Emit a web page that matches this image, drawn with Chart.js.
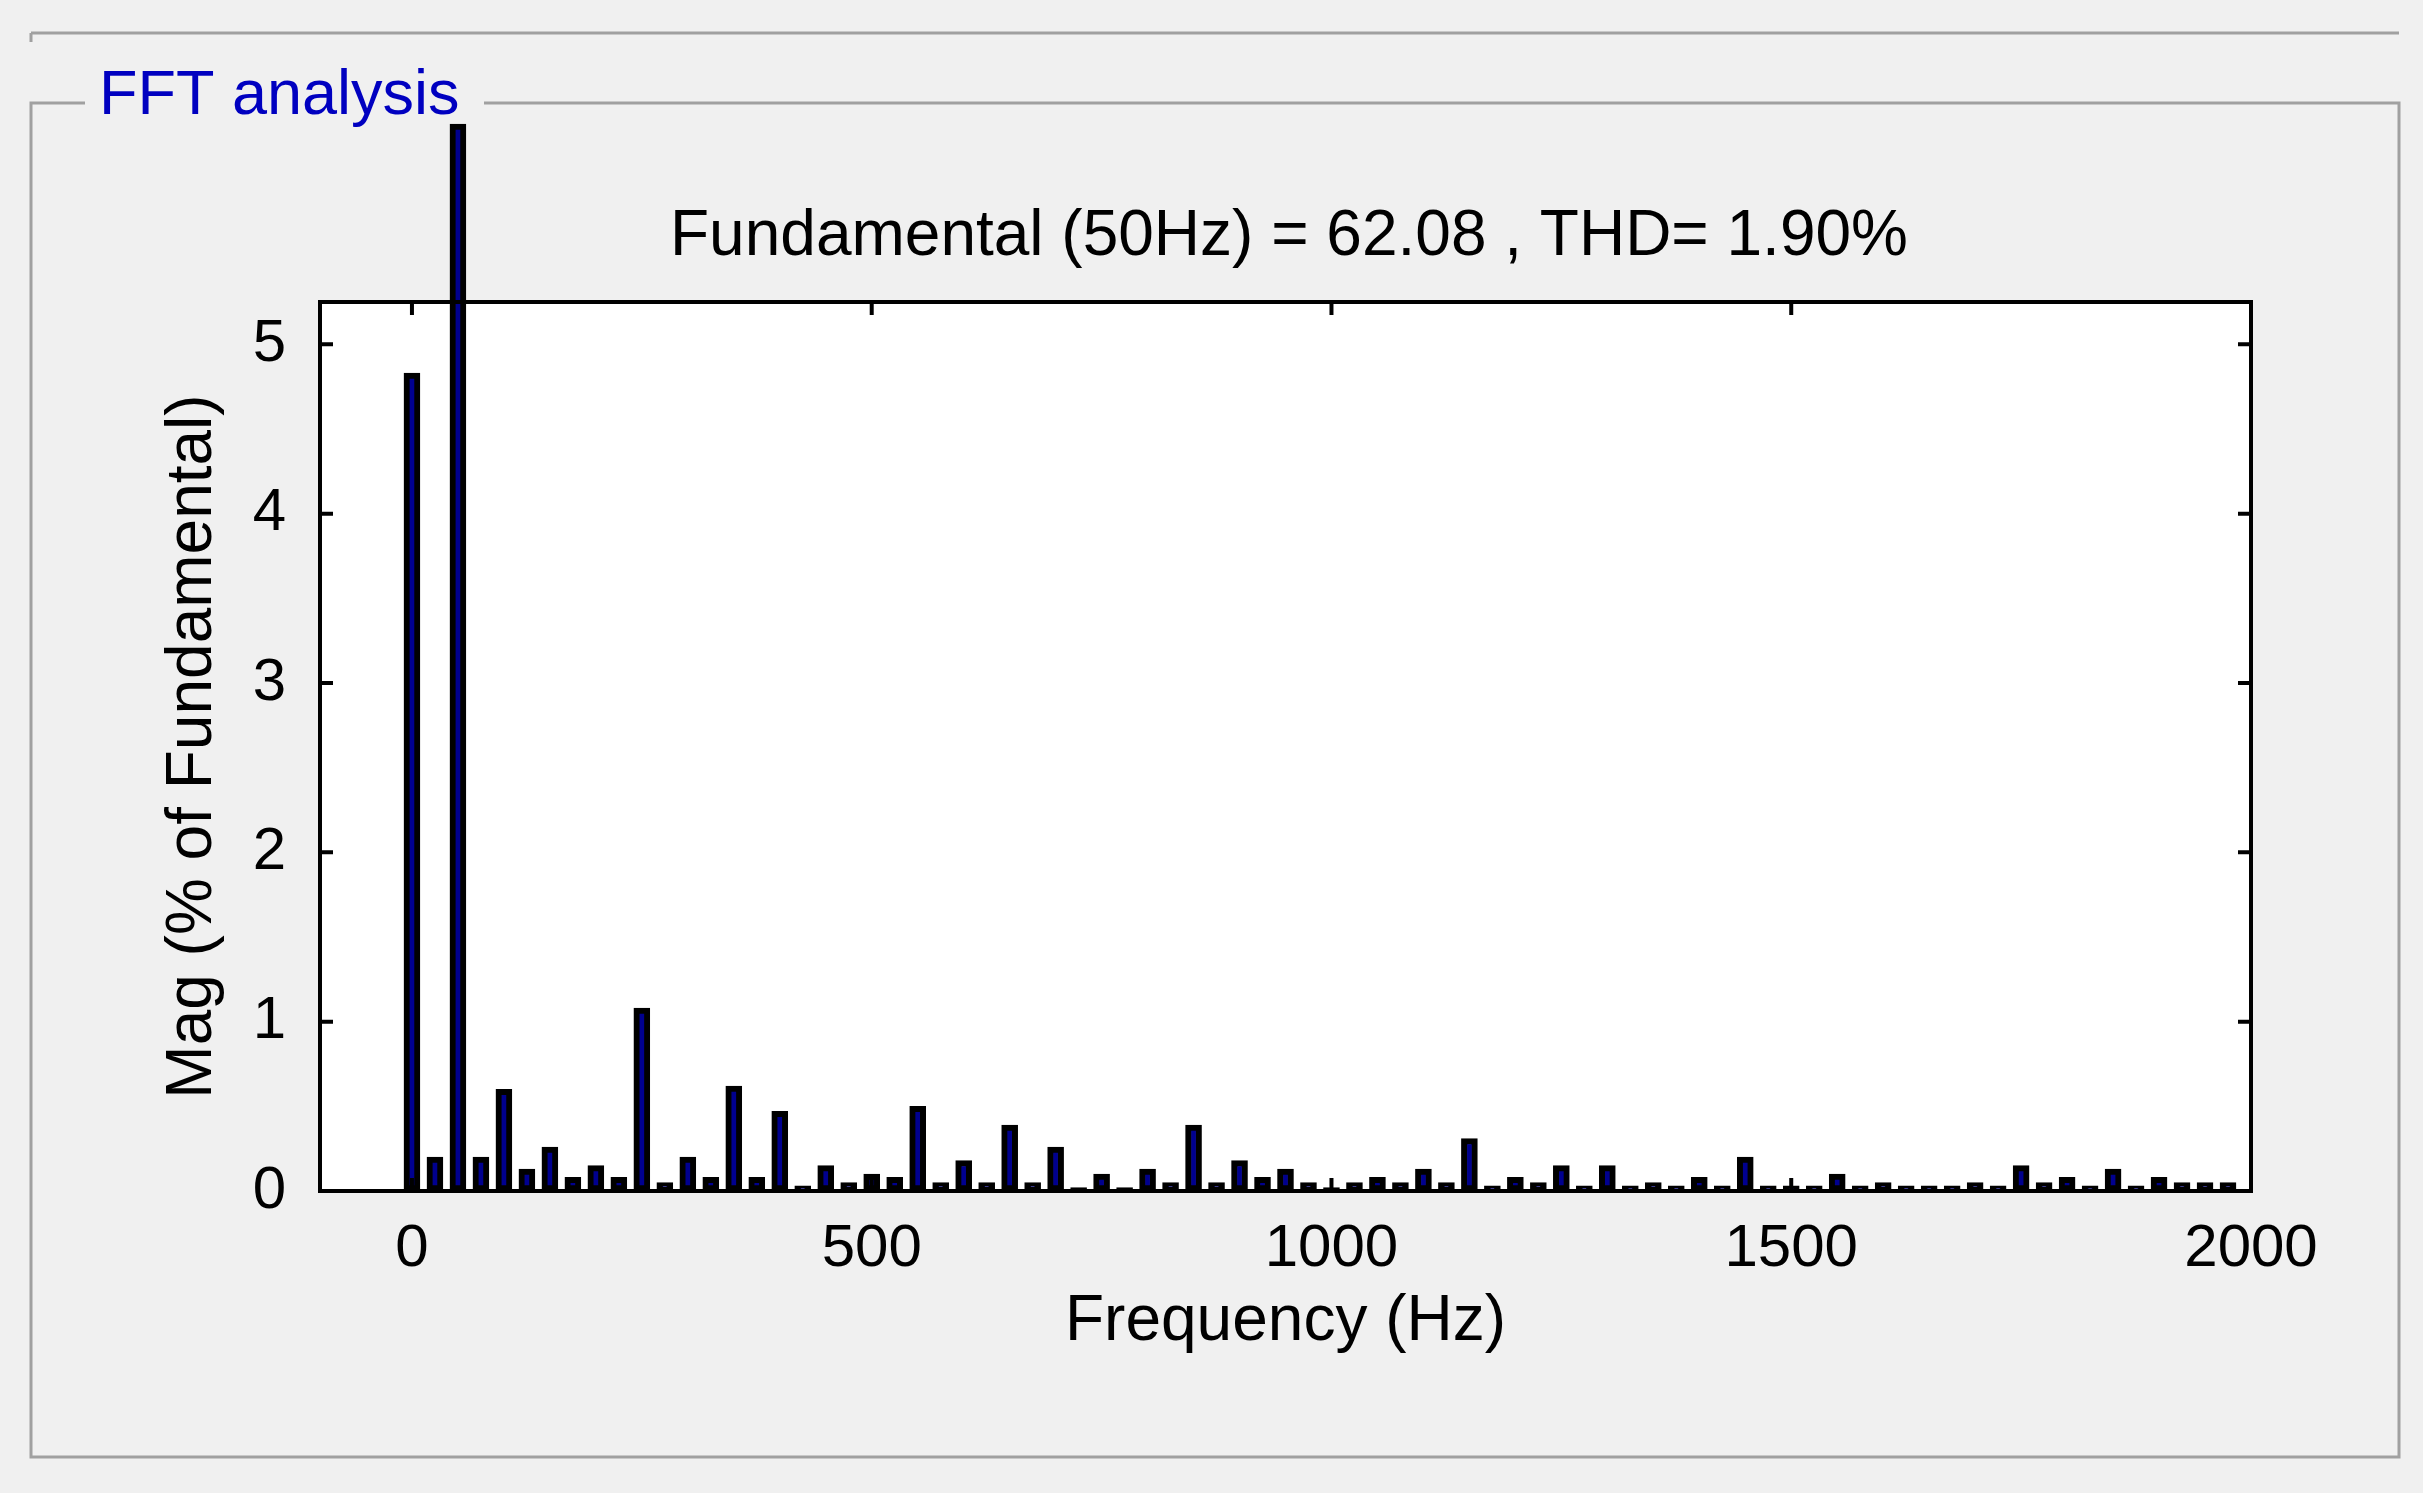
<!DOCTYPE html>
<html><head><meta charset="utf-8">
<script src="https://cdn.jsdelivr.net/npm/chart.js@4"></script>
<style>html,body{margin:0;padding:0;background:#f0f0f0;}#c{display:block;}</style>
</head><body>
<canvas id="c" width="2423" height="1493"></canvas>
<script>
const frequencies = [0,25,50,75,100,125,150,175,200,225,250,275,300,325,350,375,400,425,450,475,500,525,550,575,600,625,650,675,700,725,750,775,800,825,850,875,900,925,950,975,1000,1025,1050,1075,1100,1125,1150,1175,1200,1225,1250,1275,1300,1325,1350,1375,1400,1425,1450,1475,1500,1525,1550,1575,1600,1625,1650,1675,1700,1725,1750,1775,1800,1825,1850,1875,1900,1925,1950,1975];
const magnitudes = [4.83,0.2,6.3,0.2,0.6,0.13,0.26,0.08,0.15,0.08,1.08,0.05,0.2,0.08,0.62,0.08,0.47,0.03,0.15,0.05,0.1,0.08,0.5,0.05,0.18,0.05,0.39,0.05,0.26,0.02,0.1,0.02,0.13,0.05,0.39,0.05,0.18,0.08,0.13,0.05,0.02,0.05,0.08,0.05,0.13,0.05,0.31,0.03,0.08,0.05,0.15,0.03,0.15,0.03,0.05,0.03,0.08,0.03,0.2,0.03,0.03,0.03,0.1,0.03,0.05,0.03,0.03,0.03,0.05,0.03,0.15,0.05,0.08,0.03,0.13,0.03,0.08,0.05,0.05,0.05];
const xTickValues = [0,500,1000,1500,2000];
const yTickValues = [0,1,2,3,4,5];
const titleText = 'Fundamental (50Hz) = 62.08 , THD= 1.90%';
const panelText = 'FFT analysis';

const F = 'Arial, "Liberation Sans", sans-serif';
const deco = {
  id:'deco',
  beforeDraw(chart){
    const c = chart.ctx; c.save();
    c.fillStyle='#f0f0f0'; c.fillRect(0,0,chart.width,chart.height);
    c.strokeStyle='#a0a0a0'; c.lineWidth=3;
    c.beginPath(); c.moveTo(31,33); c.lineTo(2399,33); c.stroke();
    c.beginPath(); c.moveTo(31,33); c.lineTo(31,42); c.stroke();
    c.beginPath();
    c.moveTo(85,103); c.lineTo(31,103); c.lineTo(31,1457); c.lineTo(2399,1457); c.lineTo(2399,103); c.lineTo(484,103); c.stroke();
    c.fillStyle='#0000c0'; c.font='63px '+F; c.textBaseline='middle'; c.textAlign='left';
    c.fillText(panelText,99,97);
    const a=chart.chartArea;
    c.fillStyle='#fff'; c.fillRect(a.left,a.top,a.right-a.left,a.bottom-a.top);
    c.fillStyle='#000'; c.font='64px '+F; c.textAlign='center';
    c.fillText(titleText,1289,237);
    c.restore();
  },
  afterDraw(chart){
    const c=chart.ctx, a=chart.chartArea, xs=chart.scales.x, ys=chart.scales.y;
    c.save(); c.strokeStyle='#000'; c.lineWidth=4;
    c.strokeRect(a.left,a.top,a.right-a.left,a.bottom-a.top);
    const L=13;
    c.beginPath();
    xTickValues.forEach(v=>{const p=xs.getPixelForValue(v);c.moveTo(p,a.bottom);c.lineTo(p,a.bottom-L);c.moveTo(p,a.top);c.lineTo(p,a.top+L);});
    yTickValues.forEach(v=>{const p=ys.getPixelForValue(v);c.moveTo(a.left,p);c.lineTo(a.left+L,p);c.moveTo(a.right,p);c.lineTo(a.right-L,p);});
    c.stroke(); c.restore();
  }
};
new Chart(document.getElementById('c'),{
  type:'bar',
  data:{datasets:[{data:frequencies.map((f,i)=>({x:f,y:magnitudes[i]})),
    backgroundColor:'#00008f',borderColor:'#000',borderWidth:6,borderSkipped:false,barThickness:16,clip:false}]},
  options:{responsive:false,animation:false,devicePixelRatio:1,
    layout:{padding:{left:155,top:302,right:172,bottom:132}},
    plugins:{legend:{display:false},tooltip:{enabled:false}},
    scales:{
      x:{type:'linear',min:-100,max:2000,offset:false,
        afterBuildTicks:s=>{s.ticks=xTickValues.map(v=>({value:v}));},
        afterFit:s=>{s.height=170;},
        grid:{display:false},border:{display:false},
        ticks:{color:'#000',font:{family:F,size:60},padding:14,maxRotation:0,callback:v=>String(v)},
        title:{display:true,text:'Frequency (Hz)',color:'#000',font:{family:F,size:64},padding:0}},
      y:{min:0,max:5.25,
        afterBuildTicks:s=>{s.ticks=yTickValues.map(v=>({value:v}));},
        afterFit:s=>{s.width=165;},
        grid:{display:false},border:{display:false},
        ticks:{color:'#000',font:{family:F,size:60},padding:26},
        title:{display:true,text:'Mag (% of Fundamental)',color:'#000',font:{family:F,size:64},padding:0}}
    }},
  plugins:[deco]
});
</script>
</body></html>
